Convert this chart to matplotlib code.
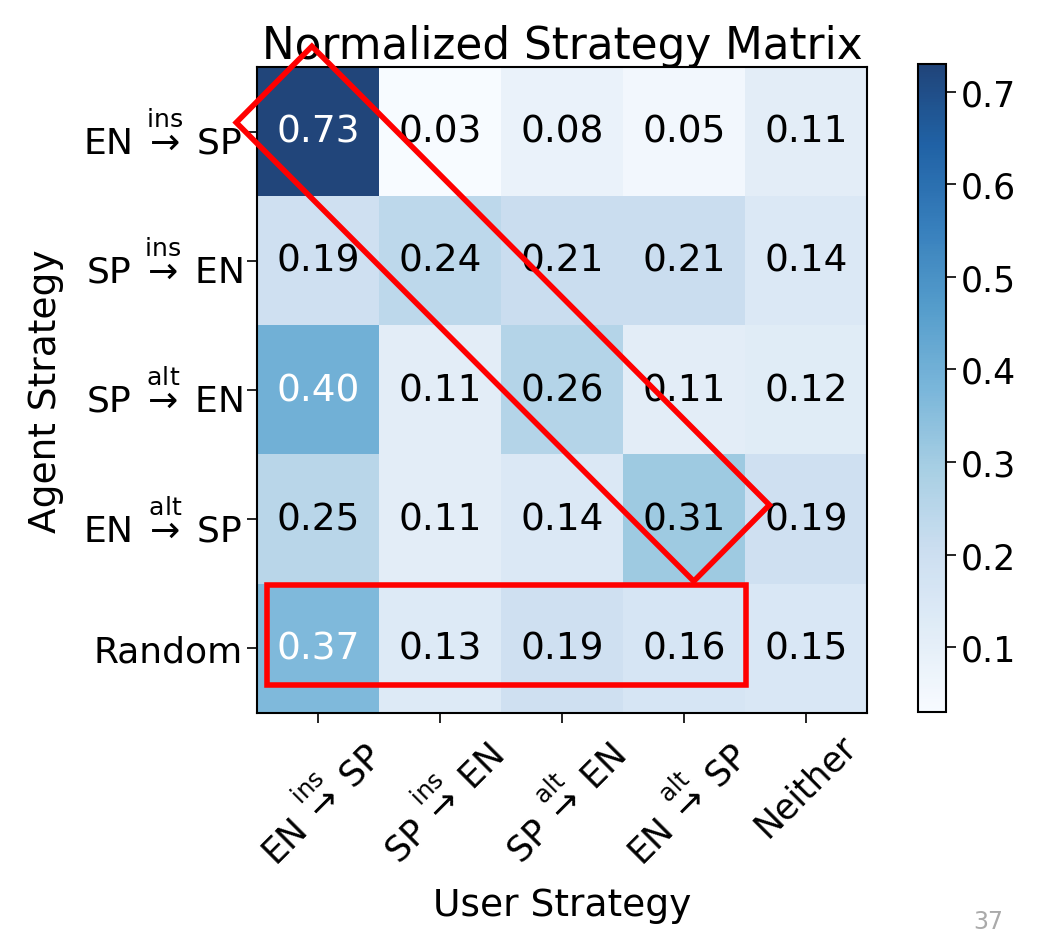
import numpy as np
import matplotlib
matplotlib.use("Agg")
import matplotlib.pyplot as plt
from matplotlib.patches import Polygon, Rectangle

# rows = agent strategy, cols = user strategy
agent_labels = [r"EN$\;\overset{\mathrm{ins}}{\rightarrow}\;$SP",
                r"SP$\;\overset{\mathrm{ins}}{\rightarrow}\;$EN",
                r"SP$\;\overset{\mathrm{alt}}{\rightarrow}\;$EN",
                r"EN$\;\overset{\mathrm{alt}}{\rightarrow}\;$SP",
                "Random"]
user_labels = [r"EN$\;\overset{\mathrm{ins}}{\rightarrow}\;$SP",
               r"SP$\;\overset{\mathrm{ins}}{\rightarrow}\;$EN",
               r"SP$\;\overset{\mathrm{alt}}{\rightarrow}\;$EN",
               r"EN$\;\overset{\mathrm{alt}}{\rightarrow}\;$SP",
               "Neither"]
row_ins_en_sp = [0.73, 0.03, 0.08, 0.05, 0.11]
row_ins_sp_en = [0.19, 0.24, 0.21, 0.21, 0.14]
row_alt_sp_en = [0.40, 0.11, 0.26, 0.11, 0.12]
row_alt_en_sp = [0.25, 0.11, 0.14, 0.31, 0.19]
row_random = [0.37, 0.13, 0.19, 0.16, 0.15]

# red highlight shapes (data coords of the heatmap)
diag_box = [(-0.05, -0.66), (-0.67, -0.07), (3.08, 3.48), (3.70, 2.89)]
row_box_x, row_box_y, row_box_w, row_box_h = -0.42, 3.51, 3.93, 0.77

matrix = np.array([row_ins_en_sp, row_ins_sp_en, row_alt_sp_en,
                   row_alt_en_sp, row_random])

fig = plt.figure(figsize=(10.38, 9.37), dpi=100)
ax = fig.add_axes([257 / 1038, 1 - 714 / 937, 610 / 1038, 646 / 937])
cax = fig.add_axes([918 / 1038, 1 - 713 / 937, 28 / 1038, 648 / 937])

im = ax.imshow(matrix, cmap="Blues", aspect="auto", alpha=0.9,
               vmin=matrix.min(), vmax=matrix.max())

for i in range(matrix.shape[0]):
    for j in range(matrix.shape[1]):
        v = matrix[i, j]
        ax.text(j, i, f"{v:.2f}", ha="center", va="center", fontsize=27,
                color="white" if v > 0.35 else "black")

ax.set_xticks(range(len(user_labels)))
ax.set_yticks(range(len(agent_labels)))
ax.set_xticklabels(user_labels, rotation=45, ha="center", fontsize=25)
ax.set_yticklabels(agent_labels, fontsize=26)
ax.tick_params(length=7, width=1.2)
ax.set_xlabel("User Strategy", fontsize=27, labelpad=12)
ax.set_ylabel("Agent Strategy", fontsize=27, labelpad=14)
ax.set_title("Normalized Strategy Matrix", fontsize=31.5, pad=6)

cb = fig.colorbar(im, cax=cax)
cb.set_ticks([0.1, 0.2, 0.3, 0.4, 0.5, 0.6, 0.7])
cb.ax.tick_params(labelsize=25, length=7, width=1.2)
cb.outline.set_linewidth(1.5)
for s in ax.spines.values():
    s.set_linewidth(1.5)

ax.add_patch(Polygon(diag_box, closed=True, fill=False, edgecolor="red",
                     linewidth=4, clip_on=False, zorder=5))
ax.add_patch(Rectangle((row_box_x, row_box_y), row_box_w, row_box_h,
                       fill=False, edgecolor="red", linewidth=4,
                       clip_on=False, zorder=5))

fig.text(988 / 1038, 1 - 922 / 937, "37", color="#aaaaaa", fontsize=17,
         ha="center", va="center")

fig.savefig("out.png", dpi=100)
